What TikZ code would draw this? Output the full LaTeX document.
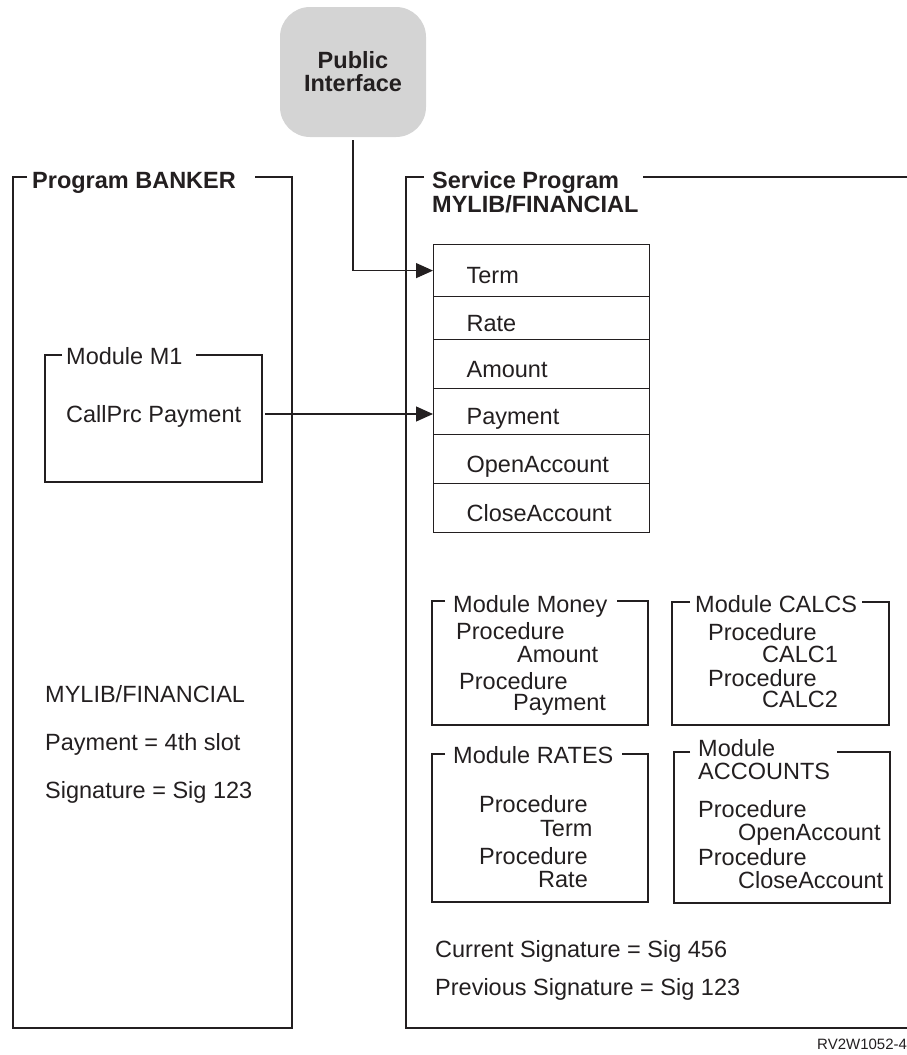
\documentclass[tikz,border=0pt]{standalone}
\usepackage{fontspec}
\newfontfamily\arial{Liberation Sans}
\usetikzlibrary{arrows.meta,calc}
\definecolor{ink}{RGB}{35,31,32}
\definecolor{pigray}{RGB}{212,212,212}
\begin{document}
\begin{tikzpicture}[x=1pt,y=-1pt,
  every node/.style={font=\arial\fontsize{23.5}{23.5}\selectfont, text=ink},
  txt/.style={anchor=base west, inner sep=0pt},
  ttl/.style={txt, font=\arial\bfseries\fontsize{23.5}{23.5}\selectfont},
  frame/.style={draw=ink, line width=1.2pt},
  row/.style={draw=ink, line width=1.2pt, anchor=north west, minimum width=216pt,
    text width=150pt, inner xsep=33pt, inner ysep=0pt, align=left,
    text height=28pt, text depth=2pt},
  arr/.style={draw=ink, line width=1.2pt, -{Triangle[length=17pt,width=15pt]}},
  pibox/.style={fill=pigray, rounded corners=30pt, minimum width=146pt,
    minimum height=130pt, align=center,
    font=\arial\bfseries\fontsize{23.5}{23}\selectfont}
]
\useasboundingbox (0,0) rectangle (906,1055);

% Public interface
\node[pibox] (pi) at (353,72) {Public\\Interface};

% Program BANKER frame
\draw[frame] (27,177) -- (13,177) -- (13,1028) -- (292,1028) -- (292,177) -- (255,177);
\node[ttl] (banker) at (32,188) {Program BANKER};

% Service program frame
\draw[frame] (424,177) -- (406,177) -- (406,1028) -- (912,1028);
\draw[frame] (643,177) -- (912,177);
\node[ttl] (svc1) at (432,188) {Service Program};
\node[ttl] (svc2) at (432,212) {MYLIB/FINANCIAL};

% export table
\node[row, minimum height=52pt] (term)    at (433,244) {Term};
\node[row, minimum height=43pt] (rate)    at (433,296) {Rate};
\node[row, minimum height=49pt] (amount)  at (433,339) {Amount};
\node[row, minimum height=46pt] (payment) at (433,388) {Payment};
\node[row, minimum height=49pt] (open)    at (433,434) {OpenAccount};
\node[row, minimum height=49pt] (close)   at (433,483) {CloseAccount};

% Module M1
\draw[frame] (62,355) -- (45,355) -- (45,482) -- (262,482) -- (262,355) -- (196,355);
\node[txt] (m1t) at (66,364) {Module M1};
\node[txt] (callprc) at (66,422) {CallPrc Payment};

% left texts
\node[txt] (lib) at (45,702) {MYLIB/FINANCIAL};
\node[txt] (slot) at (45,750) {Payment = 4th slot};
\node[txt] (sig) at (45,798) {Signature = Sig 123};

% Module Money
\draw[frame] (445,601) -- (432,601) -- (432,725) -- (648,725) -- (648,601) -- (617,601);
\node[txt] (money) at (453,612) {Module Money};
\node[txt] (mp1) at (456,639) {Procedure};
\node[txt] (mp1n) at (517,662) {Amount};
\node[txt] (mp2) at (459,689) {Procedure};
\node[txt] (mp2n) at (513,710) {Payment};

% Module CALCS
\draw[frame] (690,602) -- (672,602) -- (672,725) -- (889,725) -- (889,602) -- (862,602);
\node[txt] (calcs) at (695,612) {Module CALCS};
\node[txt] (cp1) at (708,640) {Procedure};
\node[txt] (cp1n) at (762,662) {CALC1};
\node[txt] (cp2) at (708,686) {Procedure};
\node[txt] (cp2n) at (762,707) {CALC2};

% Module RATES
\draw[frame] (445,754) -- (432,754) -- (432,902) -- (648,902) -- (648,754) -- (622,754);
\node[txt] (rates) at (453,763) {Module RATES};
\node[txt] (rp1) at (479,812) {Procedure};
\node[txt] (rp1n) at (540,836) {Term};
\node[txt] (rp2) at (479,864) {Procedure};
\node[txt] (rp2n) at (538,887) {Rate};

% Module ACCOUNTS
\draw[frame] (690,752) -- (674,752) -- (674,903) -- (890,903) -- (890,752) -- (837,752);
\node[txt] (acc1) at (698,756) {Module};
\node[txt] (acc2) at (698,779) {ACCOUNTS};
\node[txt] (ap1) at (698,817) {Procedure};
\node[txt] (ap1n) at (738,840) {OpenAccount};
\node[txt] (ap2) at (698,865) {Procedure};
\node[txt] (ap2n) at (738,888) {CloseAccount};

% signatures
\node[txt] (cur) at (435,957) {Current Signature = Sig 456};
\node[txt] (prev) at (435,995) {Previous Signature = Sig 123};

% figure id
\node[txt, font=\arial\fontsize{15}{15}\selectfont] (fid) at (817,1049) {RV2W1052-4};

% connectors
\draw[arr, shorten <=3pt] (pi.south) |- (term.west);
\coordinate (m1out) at (265,414);
\draw[arr] (m1out) -- (m1out -| payment.west);
\end{tikzpicture}
\end{document}
